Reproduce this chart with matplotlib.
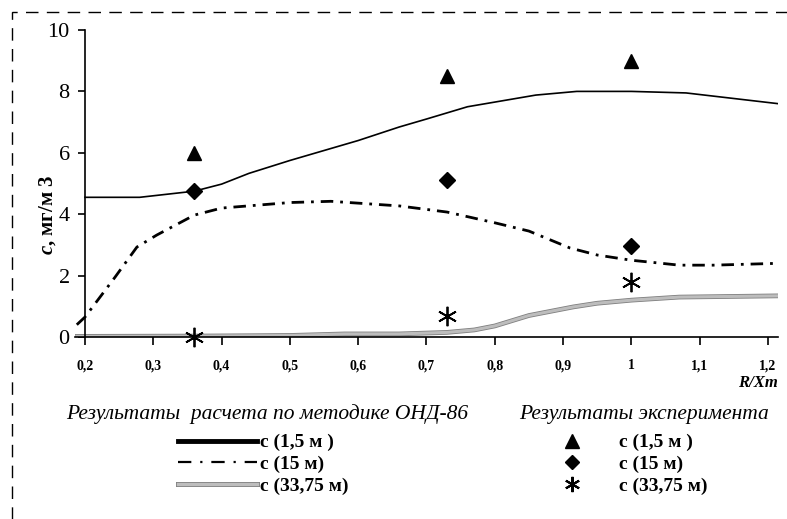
import matplotlib
matplotlib.use("Agg")
import matplotlib.pyplot as plt
import matplotlib.patheffects as pe
from matplotlib.lines import Line2D
from matplotlib.patches import Rectangle

# calculated curves (OND-86 method)
x_15 = [0.2, 0.28, 0.36, 0.4, 0.44, 0.5, 0.6, 0.66, 0.7, 0.76, 0.86, 0.92, 1.0, 1.08, 1.215]
c_15 = [4.55, 4.55, 4.75, 4.98, 5.33, 5.75, 6.4, 6.84, 7.1, 7.5, 7.88, 8.0, 8.0, 7.95, 7.6]

x_150 = [0.188, 0.2, 0.244, 0.276, 0.305, 0.36, 0.4, 0.5, 0.56, 0.62, 0.66, 0.73, 0.8, 0.85,
         0.91, 0.95, 1.0, 1.04, 1.07, 1.12, 1.215]
c_150 = [0.4, 0.65, 1.95, 2.93, 3.32, 3.97, 4.2, 4.38, 4.42, 4.33, 4.27, 4.07, 3.72, 3.45,
         2.9, 2.67, 2.5, 2.41, 2.34, 2.34, 2.4]

x_3375 = [0.188, 0.36, 0.5, 0.58, 0.66, 0.73, 0.77, 0.8, 0.85, 0.915, 0.95, 1.0, 1.07, 1.215]
c_3375 = [0.02, 0.03, 0.05, 0.1, 0.1, 0.15, 0.23, 0.36, 0.7, 0.98, 1.1, 1.2, 1.3, 1.34]

# experiment
x_exp = [0.36, 0.73, 1.0]
exp_15 = [6.0, 8.5, 9.0]
exp_150 = [4.75, 5.1, 2.95]
exp_3375 = [0.0, 0.7, 1.8]

y_ticks = [0, 2, 4, 6, 8, 10]
x_ticks = [0.2, 0.3, 0.4, 0.5, 0.6, 0.7, 0.8, 0.9, 1.0, 1.1, 1.2]
x_tick_labels = ["0,2", "0,3", "0,4", "0,5", "0,6", "0,7", "0,8", "0,9", "1", "1,1", "1,2"]

labels = ["c (1,5 м )", "c (15 м)", "c (33,75 м)"]

serif = "Liberation Serif"
plt.rcParams["mathtext.fontset"] = "custom"
plt.rcParams["mathtext.bfit"] = "Liberation Serif:italic:bold"
gray_fx = [pe.Stroke(linewidth=3.4, foreground="#808080"), pe.Normal()]

fig = plt.figure(figsize=(7.87, 5.19), dpi=100)
ax = fig.add_axes([75 / 787, 1 - 337 / 519, 703 / 787, 307 / 519])

ax.plot(x_15, c_15, color="black", lw=1.2, zorder=2)
ax.plot(x_150, c_150, color="black", lw=2.0, dashes=(4.5, 2.5, 1, 2.5), zorder=2)
ax.plot(x_3375, c_3375, color="#bdbdbd", lw=2.2, path_effects=gray_fx, zorder=2)

ax.plot(x_exp, exp_15, "^", color="black", ms=10, ls="none", zorder=4, clip_on=False)
ax.plot(x_exp, exp_150, "D", color="black", ms=8, ls="none", zorder=4, clip_on=False)
ax.plot(x_exp, exp_3375, marker=(6, 2, 0), color="black", ms=14, mew=1.3, ls="none",
        zorder=4, clip_on=False)

ax.set_xlim(0.2 - 10 / 683, 1.2 + 10 / 683)
ax.set_ylim(0, 10)
for s in ["top", "right"]:
    ax.spines[s].set_visible(False)
ax.spines["left"].set_position(("data", 0.2))
ax.spines["left"].set_linewidth(1.2)
ax.spines["bottom"].set_linewidth(1.2)
ax.patch.set_alpha(0)

ax.set_yticks(y_ticks)
ax.set_yticklabels([str(v) for v in y_ticks], fontfamily=serif, fontsize=16)
ax.set_xticks(x_ticks)
ax.set_xticklabels(x_tick_labels, fontfamily=serif, fontsize=10, fontweight="bold")
ax.tick_params(axis="y", direction="out", length=5, width=1.2, pad=6)
ax.tick_params(axis="x", direction="out", length=6, width=1.2, pad=10)

fig.text(48 / 787, 1 - 215 / 519, r"$\mathbfit{c}$, мг/м 3", rotation=90,
         ha="center", va="center", fontfamily=serif, fontsize=15, fontweight="bold")
fig.text(778 / 787, 1 - 383 / 519, "R/Xm", ha="right", va="center", fontfamily=serif,
         fontsize=12, fontweight="bold", fontstyle="italic")

# legend titles
fig.text(267 / 787, 1 - 414 / 519, "Результаты  расчета по методике ОНД-86", ha="center",
         va="center", fontfamily=serif, fontsize=15.5, fontstyle="italic")
fig.text(644 / 787, 1 - 414 / 519, "Результаты эксперимента", ha="center",
         va="center", fontfamily=serif, fontsize=15.5, fontstyle="italic")

calc_handles = [
    Line2D([], [], color="black", lw=3.5),
    Line2D([], [], color="black", lw=1.6, dashes=(6, 4, 1, 4)),
    Line2D([], [], color="#bdbdbd", lw=2.4,
           path_effects=[pe.Stroke(linewidth=3.6, foreground="#808080"), pe.Normal()]),
]
exp_handles = [
    Line2D([], [], marker="^", color="black", ms=10, ls="none"),
    Line2D([], [], marker="D", color="black", ms=7, ls="none"),
    Line2D([], [], marker=(6, 2, 0), color="black", ms=11, mew=1.5, ls="none"),
]
font_leg = {"family": serif, "size": 14, "weight": "bold"}
leg1 = fig.legend(calc_handles, labels, loc="upper left", bbox_to_anchor=(168 / 787, 1 - 424 / 519),
                  frameon=False, prop=font_leg, handlelength=4.1, handletextpad=0.15,
                  labelspacing=0.22, borderpad=0)
leg2 = fig.legend(exp_handles, labels, loc="upper left", bbox_to_anchor=(548 / 787, 1 - 424 / 519),
                  frameon=False, prop=font_leg, handlelength=1.5, handletextpad=1.63,
                  labelspacing=0.22, borderpad=0)

# dashed frame around the whole figure
fig.patches.append(Rectangle((12 / 787, -0.1), 1.2, 1 - 12 / 519 + 0.1, transform=fig.transFigure,
                             fill=False, ls=(0, (9, 6)), lw=1.0, color="black"))

fig.savefig("out.png", dpi=100)
